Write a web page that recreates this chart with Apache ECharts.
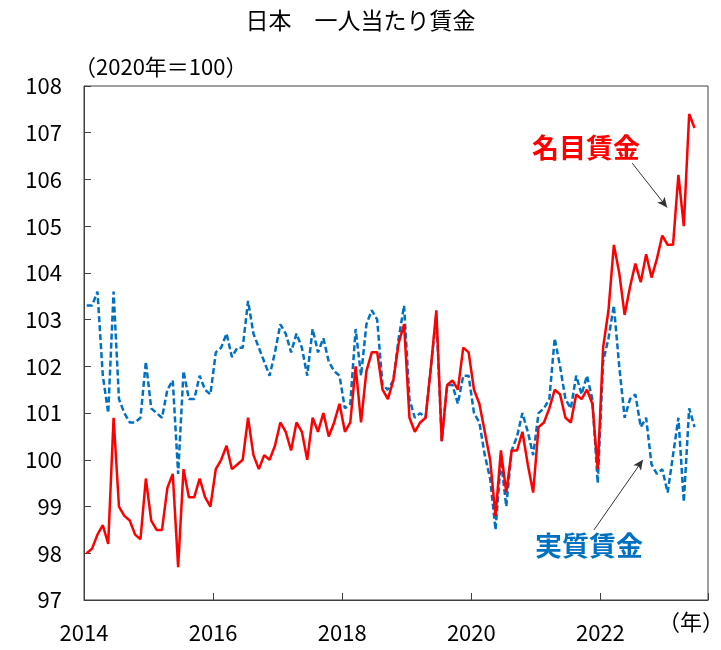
<!DOCTYPE html>
<html>
<head>
<meta charset="utf-8">
<script src="https://cdn.jsdelivr.net/npm/echarts@6/dist/echarts.min.js"></script>
<style>
  html, body { margin: 0; padding: 0; background: #fff; }
  #chart { width: 721px; height: 650px; }
</style>
</head>
<body>
<div id="chart"></div>
<script>
// monthly index, Jan 2014 .. Jun 2023 (2020 = 100)
const startYear = 2014
const axisMonths = 116
const yearLabels = ['2014', '2016', '2018', '2020', '2022']

const nominal = [
  98.0, 98.1, 98.4, 98.6, 98.2, 100.9, 99.0, 98.8, 98.7, 98.4, 98.3, 99.6,
  98.7, 98.5, 98.5, 99.4, 99.7, 97.7, 99.8, 99.2, 99.2, 99.6, 99.2, 99.0,
  99.8, 100.0, 100.3, 99.8, 99.9, 100.0, 100.9, 100.1, 99.8, 100.1, 100.0, 100.3,
  100.8, 100.6, 100.2, 100.8, 100.6, 100.0, 100.9, 100.6, 101.0, 100.5, 100.8, 101.2,
  100.6, 100.8, 102.0, 100.8, 101.9, 102.3, 102.3, 101.5, 101.3, 101.7, 102.5, 102.9,
  100.9, 100.6, 100.8, 100.9, 102.0, 103.2, 100.4, 101.6, 101.7, 101.5, 102.4, 102.3,
  101.5, 101.2, 100.6, 100.0, 98.8, 100.2, 99.3, 100.2, 100.2, 100.6, 99.9, 99.3,
  100.7, 100.8, 101.1, 101.5, 101.4, 100.9, 100.8, 101.4, 101.3, 101.5, 101.2, 99.8,
  102.4, 103.2, 104.6, 104.0, 103.1, 103.7, 104.2, 103.8, 104.4, 103.9, 104.3, 104.8,
  104.6, 104.6, 106.1, 105.0, 107.4, 107.1,
]

const real = [
  103.3, 103.3, 103.6, 101.8, 101.0, 103.6, 101.3, 101.0, 100.8, 100.8, 100.9, 102.1,
  101.1, 101.0, 100.9, 101.5, 101.7, 99.7, 101.9, 101.3, 101.3, 101.8, 101.5, 101.4,
  102.3, 102.4, 102.7, 102.2, 102.4, 102.4, 103.4, 102.7, 102.4, 102.1, 101.8, 102.3,
  102.9, 102.7, 102.3, 102.7, 102.4, 101.8, 102.8, 102.3, 102.6, 102.1, 101.9, 101.8,
  101.1, 101.2, 102.8, 101.8, 102.9, 103.2, 103.0, 101.6, 101.5, 101.7, 102.6, 103.3,
  101.3, 100.9, 101.0, 100.9, 102.0, 103.1, 100.4, 101.6, 101.6, 101.2, 101.8, 101.8,
  101.0, 100.8, 100.1, 99.6, 98.5, 100.0, 99.0, 100.2, 100.5, 101.0, 100.6, 100.1,
  101.0, 101.1, 101.3, 102.6, 102.0, 101.3, 101.1, 101.8, 101.4, 101.8, 101.3, 99.5,
  102.1, 102.6, 103.3, 102.0, 100.9, 101.3, 101.4, 100.7, 100.9, 99.9, 99.7, 99.8,
  99.3, 100.1, 100.9, 99.1, 101.1, 100.7,
]

const FONT = '"Noto Sans CJK JP", "Noto Sans", sans-serif'
const RED = '#ff0000'
const BLUE = '#0070c0'

// each month sits in the middle of its slot
const toPoints = arr => arr.map((v, i) => [i + 0.5, v])

const arrowLine = (from, to) => ({
  silent: true,
  symbol: ['none', 'arrow'],
  symbolSize: [7, 10],
  label: { show: false },
  lineStyle: { color: '#333', width: 1, type: 'solid' },
  data: [[{ coord: from }, { coord: to }]],
})

const chart = echarts.init(document.getElementById('chart'))

chart.setOption({
  animation: false,
  title: {
    text: '日本　一人当たり賃金',
    left: 'center',
    top: 4,
    textStyle: { fontFamily: FONT, fontSize: 23, fontWeight: 'normal', color: '#000' },
  },
  grid: {
    left: 84, right: 13, top: 86, bottom: 50,
    show: true, borderColor: '#404040', borderWidth: 1,
  },
  xAxis: {
    type: 'value',
    min: 0,
    max: axisMonths,
    interval: 24,
    axisLine: { lineStyle: { color: '#404040' } },
    axisTick: { inside: true, length: 7, lineStyle: { color: '#404040' } },
    splitLine: { show: false },
    axisLabel: {
      margin: 22,
      fontFamily: FONT, fontSize: 22, color: '#000',
      formatter: v => (v % 24 === 0 && v < axisMonths) ? yearLabels[v / 24] : '',
    },
  },
  yAxis: {
    type: 'value',
    min: 97,
    max: 108,
    interval: 1,
    axisLine: { show: true, lineStyle: { color: '#404040' } },
    axisTick: { show: true, inside: true, length: 7, lineStyle: { color: '#404040' } },
    splitLine: { show: false },
    axisLabel: { margin: 22, fontFamily: FONT, fontSize: 22, color: '#000' },
  },
  graphic: [
    {
      type: 'text', left: 74, top: 56,
      style: { text: '（2020年＝100）', font: '22px ' + FONT, fill: '#000' },
    },
    {
      type: 'text', left: 658, top: 611,
      style: { text: '（年）', font: '22px ' + FONT, fill: '#000' },
    },
    {
      type: 'text', left: 532, top: 134,
      style: { text: '名目賃金', font: 'bold 27px ' + FONT, fill: RED },
    },
    {
      type: 'text', left: 535, top: 532,
      style: { text: '実質賃金', font: 'bold 27px ' + FONT, fill: BLUE },
    },
  ],
  series: [
    {
      name: '実質賃金',
      type: 'line',
      data: toPoints(real),
      showSymbol: false,
      lineStyle: { color: BLUE, width: 2.5, type: [6, 3] },
      markLine: arrowLine([94.8, 98.5], [103.9, 100.0]),
    },
    {
      name: '名目賃金',
      type: 'line',
      data: toPoints(nominal),
      showSymbol: false,
      lineStyle: { color: RED, width: 2.5 },
      markLine: arrowLine([101.9, 106.35], [108.4, 105.4]),
    },
  ],
})
</script>
</body>
</html>
